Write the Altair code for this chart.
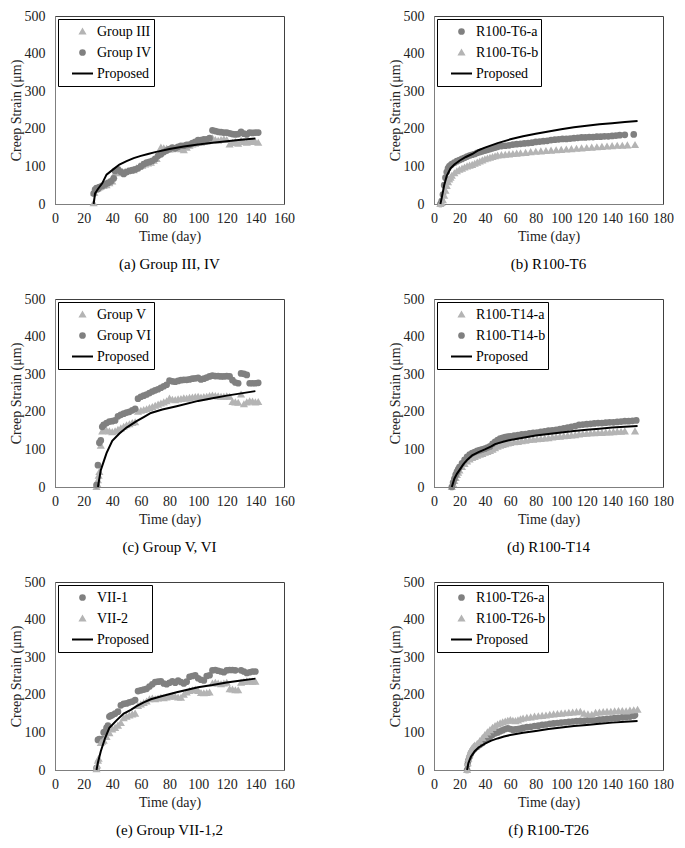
import altair as alt
import pandas as pd

FONT = "Liberation Serif"
DARK = "#808080"
LIGHT = "#b4b4b4"

# ---------------- (a) Group III, IV ----------------
a_caption = "(a) Group III, IV"
a_xmax = 160
a_s1_name, a_s1_kind = "Group III", "tri"
a_s1 = [(27, 2), (27.5, 30), (28, 38), (29, 40), (30, 42), (31, 44), (32, 46), (34, 48), (36, 50), (38, 55),
        (40, 60), (41, 75), (43, 85), (45, 82), (47, 84), (49, 86), (51, 88), (53, 88), (55, 90), (57, 95),
        (59, 100), (61, 102), (63, 105), (65, 108), (67, 110), (69, 115), (71, 120), (73, 135), (74, 150), (76, 148),
        (78, 147), (80, 145), (82, 146), (84, 148), (86, 150), (88, 146), (90, 143), (92, 150), (94, 155), (96, 158),
        (98, 160), (100, 162), (102, 163), (104, 165), (106, 166), (108, 168), (110, 175), (112, 170), (114, 168), (116, 170),
        (118, 172), (120, 170), (122, 158), (124, 162), (126, 165), (128, 160), (130, 168), (132, 165), (134, 163), (136, 165),
        (138, 166), (140, 165), (142, 163)]
a_s2_name, a_s2_kind = "Group IV", "dot"
a_s2 = [(27, 28), (28, 38), (29, 42), (30, 40), (31, 45), (33, 48), (35, 52), (37, 56), (39, 60), (41, 68),
        (42, 88), (44, 92), (46, 86), (48, 80), (50, 85), (52, 88), (54, 90), (56, 92), (58, 95), (60, 100),
        (62, 106), (64, 110), (66, 112), (68, 115), (70, 120), (72, 128), (74, 132), (76, 138), (78, 142), (80, 146),
        (82, 150), (84, 148), (86, 152), (88, 155), (90, 155), (92, 157), (94, 158), (96, 162), (98, 165), (100, 170),
        (102, 170), (104, 172), (106, 172), (108, 175), (110, 196), (112, 194), (114, 192), (116, 191), (118, 190), (120, 190),
        (122, 188), (124, 186), (126, 185), (128, 186), (130, 192), (132, 187), (134, 185), (136, 190), (138, 189), (140, 190),
        (142, 190)]
a_prop = [(27, 0), (28, 28), (30, 40), (33, 55), (36, 78), (40, 90), (45, 105), (50, 114), (55, 122), (60, 128),
          (65, 133), (70, 138), (80, 146), (90, 153), (100, 158), (110, 163), (120, 167), (130, 171), (140, 174)]

# ---------------- (b) R100-T6 ----------------
b_caption = "(b) R100-T6"
b_xmax = 180
b_s1_name, b_s1_kind = "R100-T6-a", "dot"
b_s1 = [(5, 0), (6, 8), (7, 25), (8, 50), (9, 70), (10, 85), (11, 95), (12, 100), (13, 103), (14, 106),
        (16, 110), (18, 114), (20, 117), (22, 120), (24, 123), (26, 126), (28, 129), (30, 131), (32, 133), (34, 136),
        (36, 138), (38, 140), (40, 142), (42, 144), (44, 146), (46, 148), (48, 150), (50, 152), (53, 154), (56, 155),
        (59, 156), (62, 158), (65, 159), (68, 160), (71, 161), (74, 162), (77, 163), (80, 165), (83, 166), (86, 167),
        (89, 168), (92, 170), (95, 171), (98, 172), (101, 173), (104, 173), (107, 174), (110, 175), (113, 176), (116, 177),
        (119, 177), (122, 178), (125, 178), (128, 179), (131, 179), (134, 180), (137, 180), (140, 181), (143, 182), (146, 183),
        (150, 184), (157, 185)]
b_s2_name, b_s2_kind = "R100-T6-b", "tri"
b_s2 = [(5, 0), (6, 3), (7, 10), (8, 22), (9, 35), (10, 48), (11, 58), (12, 65), (13, 70), (14, 75),
        (16, 82), (18, 87), (20, 91), (22, 94), (24, 97), (26, 100), (28, 102), (30, 104), (32, 107), (34, 110),
        (36, 113), (38, 116), (40, 119), (42, 121), (44, 123), (46, 125), (48, 127), (50, 129), (53, 130), (56, 131),
        (59, 132), (62, 133), (65, 134), (68, 135), (72, 136), (76, 138), (80, 139), (84, 140), (88, 141), (92, 142),
        (96, 143), (100, 144), (104, 145), (108, 146), (112, 147), (116, 148), (120, 149), (124, 150), (128, 151), (132, 152),
        (136, 153), (140, 154), (144, 155), (148, 155), (152, 156), (158, 157)]
b_prop = [(5, 0), (6, 15), (8, 50), (10, 75), (13, 95), (16, 105), (20, 115), (25, 125), (30, 133), (35, 143),
          (40, 150), (50, 162), (60, 172), (70, 180), (80, 187), (90, 193), (100, 199), (110, 204), (120, 208), (130, 212),
          (140, 215), (150, 218), (160, 221)]

# ---------------- (c) Group V, VI ----------------
c_caption = "(c) Group V, VI"
c_xmax = 160
c_s1_name, c_s1_kind = "Group V", "tri"
c_s1 = [(29, 0), (29.5, 8), (30, 18), (30.5, 30), (31, 40), (32, 110), (33, 148), (34, 152), (36, 150), (38, 148),
        (40, 146), (42, 148), (44, 152), (46, 156), (48, 160), (50, 164), (52, 167), (54, 170), (56, 172), (58, 200),
        (60, 203), (62, 205), (64, 207), (66, 210), (68, 213), (70, 216), (72, 219), (74, 222), (76, 225), (78, 228),
        (80, 235), (82, 232), (84, 231), (86, 233), (88, 234), (90, 236), (92, 235), (94, 237), (96, 238), (98, 239),
        (100, 240), (102, 238), (104, 239), (106, 240), (108, 242), (110, 243), (112, 242), (114, 241), (116, 240), (118, 240),
        (120, 241), (122, 240), (124, 226), (126, 225), (128, 224), (130, 246), (132, 220), (134, 225), (136, 228), (138, 227),
        (140, 225), (142, 226)]
c_s2_name, c_s2_kind = "Group VI", "dot"
c_s2 = [(29, 5), (30, 58), (31, 118), (32, 124), (33, 160), (34, 165), (36, 170), (38, 174), (40, 175), (42, 177),
        (44, 188), (46, 192), (48, 195), (50, 198), (52, 200), (54, 204), (56, 208), (58, 235), (60, 240), (62, 243),
        (64, 246), (66, 250), (68, 254), (70, 257), (72, 260), (74, 264), (76, 268), (78, 272), (80, 283), (82, 281),
        (84, 280), (86, 282), (88, 284), (90, 285), (92, 285), (94, 286), (96, 288), (98, 289), (100, 290), (102, 286),
        (104, 288), (106, 291), (108, 294), (110, 296), (112, 295), (114, 295), (116, 294), (118, 294), (120, 295), (122, 294),
        (124, 284), (126, 278), (128, 276), (130, 302), (132, 301), (134, 298), (136, 276), (138, 276), (140, 276), (142, 277)]
c_prop = [(30, 0), (32, 45), (36, 90), (40, 123), (45, 142), (50, 158), (57, 175), (62, 186), (67, 197), (75, 206),
          (85, 215), (100, 229), (110, 236), (120, 243), (130, 249), (140, 255)]

# ---------------- (d) R100-T14 ----------------
d_caption = "(d) R100-T14"
d_xmax = 180
d_s1_name, d_s1_kind = "R100-T14-a", "tri"
d_s1 = [(14, 0), (15, 8), (16, 16), (17, 24), (18, 32), (19, 38), (20, 44), (22, 53), (24, 61), (26, 68),
        (28, 73), (30, 77), (32, 80), (34, 83), (36, 86), (38, 88), (40, 91), (42, 93), (44, 96), (46, 99),
        (48, 103), (50, 107), (52, 110), (54, 112), (56, 114), (58, 116), (60, 117), (63, 119), (66, 120), (69, 122),
        (72, 123), (75, 125), (78, 126), (81, 127), (84, 128), (87, 129), (90, 130), (93, 132), (96, 133), (99, 134),
        (102, 135), (105, 136), (108, 137), (111, 138), (114, 140), (117, 141), (120, 142), (123, 143), (126, 143), (129, 144),
        (132, 144), (135, 145), (138, 145), (141, 146), (144, 147), (147, 147), (150, 148), (158, 148)]
d_s2_name, d_s2_kind = "R100-T14-b", "dot"
d_s2 = [(14, 0), (15, 12), (16, 22), (17, 32), (18, 40), (19, 47), (20, 53), (22, 63), (24, 72), (26, 80),
        (28, 86), (30, 90), (32, 93), (34, 96), (36, 98), (38, 100), (40, 102), (42, 105), (44, 108), (46, 115),
        (48, 120), (50, 125), (52, 129), (54, 131), (56, 133), (58, 134), (60, 135), (63, 137), (66, 138), (69, 140),
        (72, 141), (75, 143), (78, 144), (81, 145), (84, 147), (87, 148), (90, 150), (93, 151), (96, 152), (99, 154),
        (102, 156), (105, 158), (108, 160), (111, 162), (114, 165), (117, 166), (120, 167), (123, 168), (126, 169), (129, 170),
        (132, 170), (135, 171), (138, 172), (141, 172), (144, 173), (147, 174), (150, 175), (153, 175), (156, 176), (159, 177)]
d_prop = [(14, 0), (16, 22), (18, 35), (20, 45), (23, 60), (26, 72), (30, 84), (35, 93), (40, 100), (45, 108),
          (48, 114), (55, 121), (60, 125), (70, 131), (80, 137), (90, 141), (100, 145), (110, 149), (120, 152), (130, 155),
          (140, 158), (150, 160), (160, 162)]

# ---------------- (e) Group VII-1,2 ----------------
e_caption = "(e) Group VII-1,2"
e_xmax = 160
e_s1_name, e_s1_kind = "VII-1", "dot"
e_s1 = [(29, 5), (30, 80), (31, 82), (32, 80), (33, 82), (34, 100), (35, 102), (36, 112), (37, 118), (38, 142),
        (39, 145), (40, 146), (42, 150), (44, 155), (46, 172), (48, 176), (50, 177), (52, 180), (54, 182), (56, 186),
        (58, 210), (60, 212), (62, 214), (64, 216), (66, 222), (68, 228), (70, 234), (72, 235), (74, 236), (76, 230),
        (78, 228), (80, 232), (82, 236), (84, 232), (86, 238), (88, 234), (90, 230), (92, 235), (94, 248), (96, 250),
        (98, 252), (100, 244), (102, 240), (104, 238), (106, 250), (108, 252), (110, 265), (112, 266), (114, 264), (116, 262),
        (118, 260), (120, 265), (122, 266), (124, 266), (126, 265), (130, 265), (132, 262), (134, 258), (136, 260), (138, 262),
        (140, 262)]
e_s2_name, e_s2_kind = "VII-2", "tri"
e_s2 = [(29, 2), (29.5, 12), (30, 25), (30.5, 30), (32, 72), (33, 75), (34, 78), (36, 88), (38, 98), (40, 108),
        (42, 112), (44, 118), (46, 125), (48, 138), (50, 142), (52, 145), (54, 148), (56, 150), (58, 170), (60, 174),
        (62, 178), (64, 182), (66, 188), (68, 190), (70, 188), (72, 190), (74, 192), (76, 191), (78, 193), (80, 195),
        (82, 196), (84, 195), (86, 193), (88, 192), (90, 200), (92, 206), (94, 210), (96, 212), (98, 214), (100, 210),
        (102, 205), (104, 204), (106, 205), (108, 206), (110, 230), (112, 232), (114, 230), (116, 228), (118, 230), (120, 232),
        (122, 215), (124, 214), (126, 212), (128, 212), (130, 232), (132, 234), (134, 236), (136, 235), (138, 235), (140, 235)]
e_prop = [(29, 0), (30, 20), (32, 50), (35, 85), (38, 112), (43, 132), (48, 150), (53, 160), (57, 170), (62, 180),
          (67, 188), (75, 197), (85, 207), (100, 220), (110, 226), (120, 233), (130, 238), (140, 243)]

# ---------------- (f) R100-T26 ----------------
f_caption = "(f) R100-T26"
f_xmax = 180
f_s1_name, f_s1_kind = "R100-T26-a", "dot"
f_s1 = [(26, 0), (26.5, 15), (27, 25), (28, 35), (29, 44), (30, 50), (31, 54), (32, 57), (34, 62), (36, 67),
        (38, 72), (40, 78), (42, 84), (44, 89), (46, 94), (48, 98), (50, 100), (52, 103), (54, 106), (56, 109),
        (58, 111), (60, 109), (62, 107), (64, 108), (66, 109), (68, 110), (70, 112), (73, 114), (76, 115), (79, 117),
        (82, 118), (85, 120), (88, 121), (91, 123), (94, 124), (97, 125), (100, 126), (103, 127), (106, 128), (109, 129),
        (112, 130), (115, 131), (118, 131), (121, 132), (124, 133), (127, 133), (130, 134), (133, 135), (136, 136), (139, 137),
        (142, 138), (145, 139), (148, 140), (151, 141), (154, 142), (157, 144), (158, 146)]
f_s2_name, f_s2_kind = "R100-T26-b", "tri"
f_s2 = [(26, 0), (26.5, 18), (27, 30), (28, 42), (29, 52), (30, 58), (31, 62), (32, 65), (34, 70), (36, 77),
        (38, 85), (40, 93), (42, 100), (44, 106), (46, 112), (48, 117), (50, 121), (52, 124), (54, 127), (56, 129),
        (58, 131), (60, 133), (62, 131), (64, 130), (66, 132), (68, 135), (70, 137), (73, 139), (76, 140), (79, 142),
        (82, 143), (85, 144), (88, 145), (91, 147), (94, 148), (97, 149), (100, 150), (103, 151), (106, 152), (109, 153),
        (112, 154), (115, 155), (118, 150), (121, 148), (124, 147), (127, 152), (130, 153), (133, 154), (136, 155), (139, 155),
        (142, 156), (145, 157), (148, 157), (151, 156), (154, 158), (157, 159), (160, 160)]
f_prop = [(26, 0), (27, 18), (29, 35), (32, 50), (35, 60), (40, 70), (45, 78), (50, 84), (55, 89), (60, 93),
          (70, 99), (80, 104), (90, 109), (100, 113), (110, 117), (120, 120), (130, 123), (140, 126), (150, 128), (160, 130)]

Y_TICKS = [0, 100, 200, 300, 400, 500]
PROP_NAME = "Proposed"

W, H = 229, 188
PT_SIZE = 22


def panel(caption, xmax, s1, s2, prop):
    rows = []
    for name, pts, kind in (s1, s2):
        for t, v in pts:
            rows.append({"t": t, "v": v, "s": name})
    df_pts = pd.DataFrame(rows)
    df_prop = pd.DataFrame({"t": [p[0] for p in prop], "v": [p[1] for p in prop]})

    names = [s1[0], s2[0], PROP_NAME]
    kinds = [s1[2], s2[2]]
    colors = [LIGHT if k == "tri" else DARK for k in kinds] + ["black"]
    shapes = ["triangle-up" if k == "tri" else "circle" for k in kinds] + ["stroke"]
    sizes = [PT_SIZE, PT_SIZE, 441]

    x = alt.X("t:Q", scale=alt.Scale(domain=[0, xmax], nice=False),
              axis=alt.Axis(values=list(range(0, xmax + 1, 20)), title="Time (day)"))
    y = alt.Y("v:Q", scale=alt.Scale(domain=[0, 500], nice=False),
              axis=alt.Axis(values=Y_TICKS, title="Creep Strain (μm)"))

    leg = alt.Legend(title=None)
    pts = alt.Chart(df_pts).mark_point(filled=True, opacity=1).encode(
        x=x, y=y,
        fill=alt.Fill("s:N", scale=alt.Scale(domain=names, range=colors), legend=leg),
        stroke=alt.Stroke("s:N", scale=alt.Scale(domain=names, range=colors), legend=leg),
        shape=alt.Shape("s:N", scale=alt.Scale(domain=names, range=shapes), legend=leg),
        size=alt.Size("s:N", scale=alt.Scale(type="ordinal", domain=names, range=sizes), legend=leg),
    )
    line = alt.Chart(df_prop).mark_line(color="black", strokeWidth=2).encode(x=x, y=y)
    return alt.layer(pts, line).properties(
        width=W, height=H,
        title=alt.TitleParams(caption, orient="bottom", anchor="middle", frame="group", offset=14,
                              fontSize=15, font=FONT, fontWeight="normal", color="black"),
    )


ch = ["x", "y", "fill", "stroke", "shape", "size"]
lg = ["fill", "stroke", "shape", "size"]


def row(p1, p2):
    return alt.hconcat(p1, p2, spacing=150, bounds="flush").resolve_scale(
        **{c: "independent" for c in ch}).resolve_legend(**{c: "independent" for c in lg})


pa = panel(a_caption, a_xmax, (a_s1_name, a_s1, a_s1_kind), (a_s2_name, a_s2, a_s2_kind), a_prop)
pb = panel(b_caption, b_xmax, (b_s1_name, b_s1, b_s1_kind), (b_s2_name, b_s2, b_s2_kind), b_prop)
pc = panel(c_caption, c_xmax, (c_s1_name, c_s1, c_s1_kind), (c_s2_name, c_s2, c_s2_kind), c_prop)
pd_ = panel(d_caption, d_xmax, (d_s1_name, d_s1, d_s1_kind), (d_s2_name, d_s2, d_s2_kind), d_prop)
pe = panel(e_caption, e_xmax, (e_s1_name, e_s1, e_s1_kind), (e_s2_name, e_s2, e_s2_kind), e_prop)
pf = panel(f_caption, f_xmax, (f_s1_name, f_s1, f_s1_kind), (f_s2_name, f_s2, f_s2_kind), f_prop)

chart = alt.vconcat(row(pa, pb), row(pc, pd_), row(pe, pf), spacing=18).resolve_scale(
    **{c: "independent" for c in ch}).resolve_legend(**{c: "independent" for c in lg}).properties(
    padding={"left": 0, "top": 0, "right": 0, "bottom": 0}
).configure(font=FONT).configure_view(
    stroke="#404040", strokeWidth=1
).configure_axis(
    labelFont=FONT, titleFont=FONT, labelFontSize=14, titleFontSize=14, titleFontWeight="normal",
    labelColor="#222222", titleColor="#222222", ticks=False, tickSize=0, grid=False,
    domainColor="#7f7f7f", labelFlush=False, labelOverlap=False
).configure_axisX(
    labelPadding=7, titlePadding=4
).configure_axisY(
    labelPadding=10, titlePadding=1
).configure_legend(
    orient="top-left", offset=3, padding=2, strokeColor="black", fillColor="white",
    labelFont=FONT, labelFontSize=14, labelColor="black", symbolStrokeWidth=2,
    symbolOffset=11, labelOffset=3, rowPadding=0, clipHeight=21, titleFontSize=0
)

chart.save("out.html", embed_options={"renderer": "svg", "actions": False})
